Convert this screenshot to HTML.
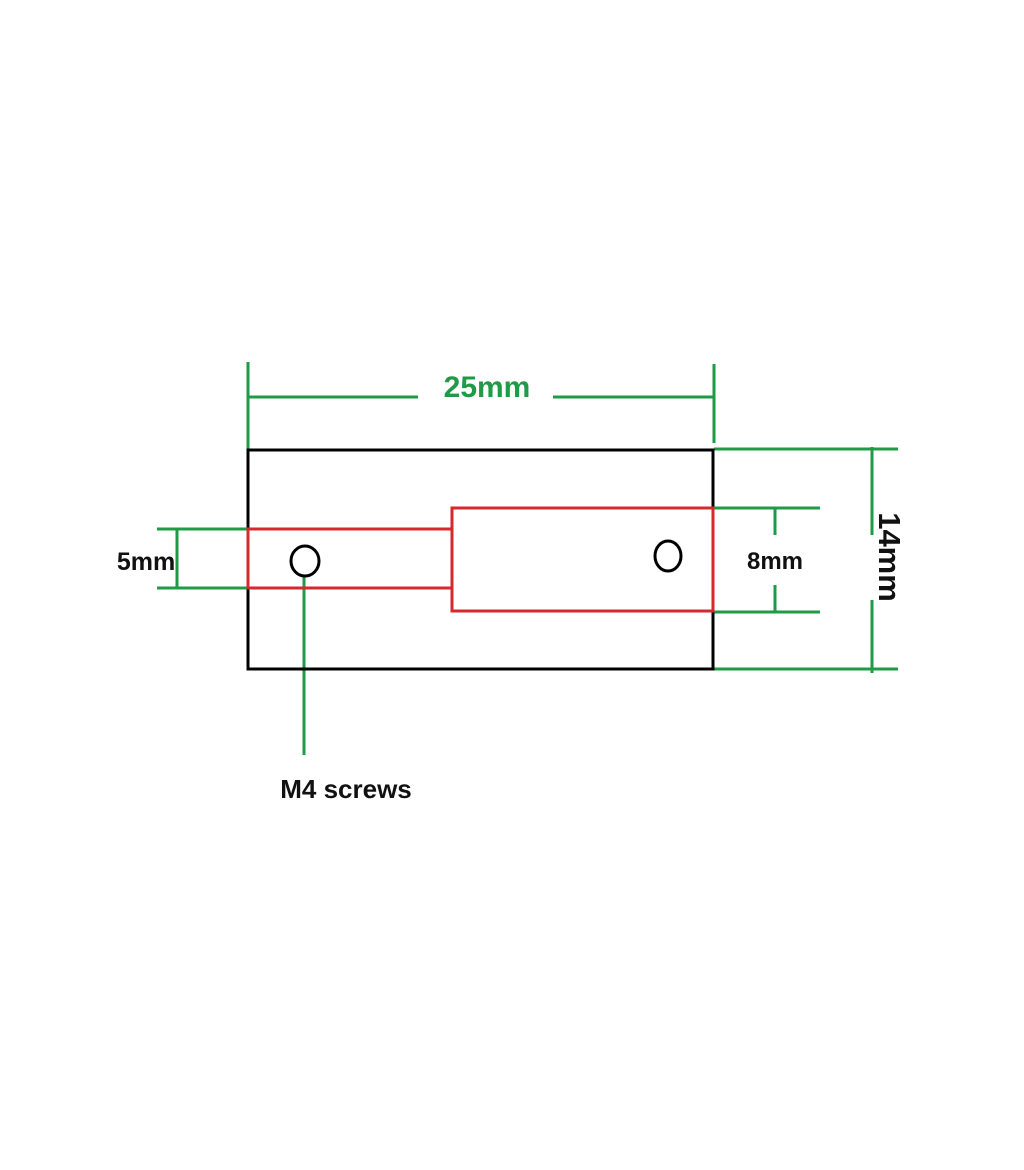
<!DOCTYPE html>
<html><head><style>
html,body{margin:0;padding:0;background:#fff;}
svg{display:block;}
text{font-family:"Liberation Sans",sans-serif;font-weight:bold;}
</style></head><body>
<svg width="1024" height="1170" viewBox="0 0 1024 1170" xmlns="http://www.w3.org/2000/svg">
<g stroke="#1f9a46" stroke-width="3" fill="none">
<line x1="248" y1="362" x2="248" y2="450"/>
<line x1="714" y1="364" x2="714" y2="443"/>
<line x1="248" y1="397" x2="418" y2="397"/>
<line x1="553" y1="397" x2="714" y2="397"/>
<line x1="714" y1="449" x2="898" y2="449"/>
<line x1="714" y1="669" x2="898" y2="669"/>
<line x1="872" y1="447" x2="872" y2="535"/>
<line x1="872" y1="600" x2="872" y2="673"/>
<line x1="713" y1="508" x2="820" y2="508"/>
<line x1="713" y1="612" x2="820" y2="612"/>
<line x1="775" y1="508" x2="775" y2="535"/>
<line x1="775" y1="585" x2="775" y2="612"/>
<line x1="157" y1="529" x2="248" y2="529"/>
<line x1="157" y1="588" x2="248" y2="588"/>
<line x1="177" y1="529" x2="177" y2="588"/>
<line x1="304" y1="575" x2="304" y2="755"/>
</g>
<rect x="248" y="450" width="465" height="219" fill="none" stroke="#000" stroke-width="3"/>
<g stroke="#d42a2f" stroke-width="3" fill="none">
<polyline points="452,529 248,529 248,588 452,588"/>
<rect x="452" y="508" width="261" height="103"/>
</g>
<ellipse cx="305" cy="561" rx="14" ry="15" fill="none" stroke="#000" stroke-width="3"/>
<ellipse cx="668" cy="556" rx="13" ry="15" fill="none" stroke="#000" stroke-width="3"/>
<text x="487" y="397" font-size="30" fill="#1f9a46" text-anchor="middle">25mm</text>
<text x="146" y="570" font-size="25" fill="#111" text-anchor="middle">5mm</text>
<text x="775" y="569" font-size="24" fill="#111" text-anchor="middle">8mm</text>
<text x="0" y="0" font-size="31" fill="#111" text-anchor="middle" transform="translate(879,557) rotate(90)">14mm</text>
<text x="346" y="798" font-size="26" fill="#111" text-anchor="middle">M4 screws</text>
</svg>
</body></html>
